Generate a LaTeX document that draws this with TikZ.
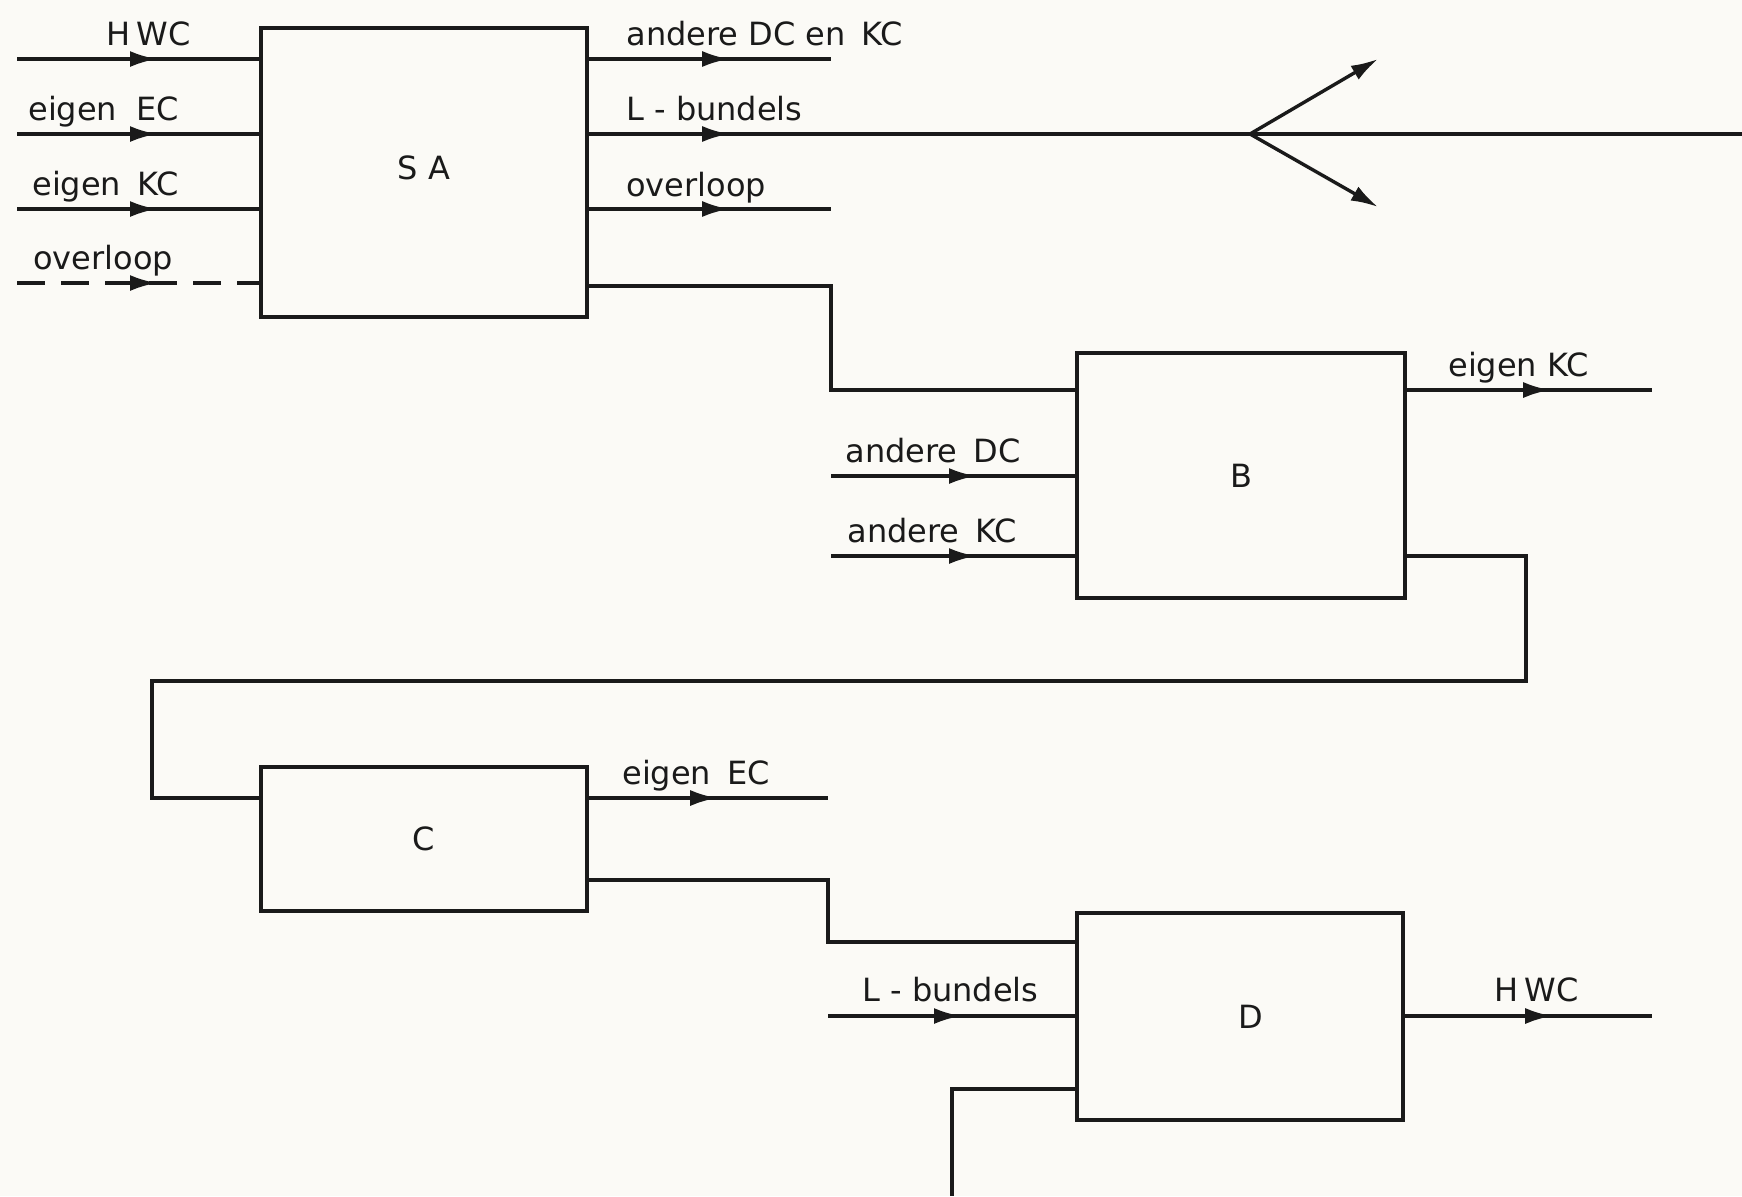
\documentclass[tikz,border=0pt]{standalone}
\usepackage{fontspec}
\setmainfont{DejaVu Sans}
\usetikzlibrary{arrows.meta,decorations.markings}
\definecolor{paper}{HTML}{FBFAF6}
\definecolor{ink}{HTML}{1A1A1A}
\begin{document}
\begin{tikzpicture}[x=0.5pt,y=-0.5pt,
  line/.style={draw=ink,line width=1.7pt},
  flow/.style={line,postaction={decorate},decoration={markings,mark=at position #1 with {\arrow{Latex[length=13.5pt,width=8pt]}}}},
  flow/.default=70pt,
  tipline/.style={line,-{Latex[length=13.5pt,width=8pt]}},
  block/.style={draw=ink,line width=2.2pt,rectangle,inner sep=0pt,text=ink,font=\fontsize{16}{19}\selectfont},
  lbl/.style={anchor=base west,inner sep=0pt,text=ink,font=\fontsize{16}{19}\selectfont}]
\fill[paper] (0,0) rectangle (1742,1196);
\useasboundingbox (0,0) rectangle (1742,1196);

% blocks
\node[block,minimum width=163pt,minimum height=144.5pt] (SA) at (424,172.5) {\raisebox{5pt}{S\kern5pt A}};
\node[block,minimum width=164pt,minimum height=122.5pt] (B) at (1241,475.5) {B};
\node[block,minimum width=163pt,minimum height=72pt] (C) at (424,839) {C};
\node[block,minimum width=163pt,minimum height=103.5pt] (D) at (1240,1016.5) {\kern11pt D};

% free ends
\coordinate (a1) at (17,59);
\coordinate (a2) at (17,134);
\coordinate (a3) at (17,209);
\coordinate (a4) at (17,283);
\coordinate (b1) at (831,59);
\coordinate (b2) at (1742,134);
\coordinate (b3) at (831,209);
\coordinate (sp) at (1250,134);
\coordinate (su) at (1378,59);
\coordinate (sd) at (1378,207);
\coordinate (k1) at (831,286);
\coordinate (k2) at (831,390);
\coordinate (c1) at (831,476);
\coordinate (c2) at (831,556);
\coordinate (c3) at (1652,390);
\coordinate (d1) at (1526,556);
\coordinate (d2) at (1526,681);
\coordinate (d3) at (152,681);
\coordinate (d4) at (152,798);
\coordinate (e1) at (828,798);
\coordinate (e2) at (828,880);
\coordinate (e3) at (828,942);
\coordinate (f1) at (828,1016);
\coordinate (f2) at (1652,1016);
\coordinate (g1) at (952,1089);
\coordinate (g2) at (952,1196);

% SA inputs
\draw[flow] (a1) -- (a1 -| SA.west);
\draw[flow] (a2) -- (a2 -| SA.west);
\draw[flow] (a3) -- (a3 -| SA.west);
\draw[flow,dash pattern=on 14pt off 8pt] (a4) -- (a4 -| SA.west);
% SA outputs
\draw[flow] (b1 -| SA.east) -- (b1);
\draw[flow] (b2 -| SA.east) -- (b2);
\draw[flow] (b3 -| SA.east) -- (b3);
\draw[tipline] (sp) -- (su);
\draw[tipline] (sp) -- (sd);
% SA -> B
\draw[line] (k1 -| SA.east) -- (k1) -- (k2) -- (k2 -| B.west);
% B
\draw[flow=72.5pt] (c1) -- (c1 -| B.west);
\draw[flow=72.5pt] (c2) -- (c2 -| B.west);
\draw[flow=71.5pt] (c3 -| B.east) -- (c3);
% B -> C
\draw[line] (d1 -| B.east) -- (d1) -- (d2) -- (d3) -- (d4) -- (d4 -| C.west);
% C
\draw[flow=64pt] (e1 -| C.east) -- (e1);
\draw[line] (e2 -| C.east) -- (e2) -- (e3) -- (e3 -| D.west);
% D
\draw[flow=66.5pt] (f1) -- (f1 -| D.west);
\draw[flow=73.5pt] (f2 -| D.east) -- (f2);
\draw[line] (g1 -| D.west) -- (g1) -- (g2);

% labels
\node[lbl] (t1) at (106,45) {H\kern3pt WC};
\node[lbl] (t2) at (28,120) {eigen\hspace{0.6em}EC};
\node[lbl] (t3) at (32,195) {eigen\hspace{0.5em}KC};
\node[lbl] (t4) at (33,269) {overloop};
\node[lbl] (t5) at (626,45) {andere DC en\hspace{0.5em}KC};
\node[lbl] (t6) at (626,120) {L - bundels};
\node[lbl] (t7) at (626,196) {overloop};
\node[lbl] (t8) at (1448,376) {eigen KC};
\node[lbl] (t9) at (845,462) {andere\hspace{0.5em}DC};
\node[lbl] (t10) at (847,542) {andere\hspace{0.5em}KC};
\node[lbl] (t11) at (622,784) {eigen\hspace{0.5em}EC};
\node[lbl] (t12) at (862,1001) {L - bundels};
\node[lbl] (t13) at (1494,1001) {H\kern3pt WC};
\end{tikzpicture}
\end{document}
